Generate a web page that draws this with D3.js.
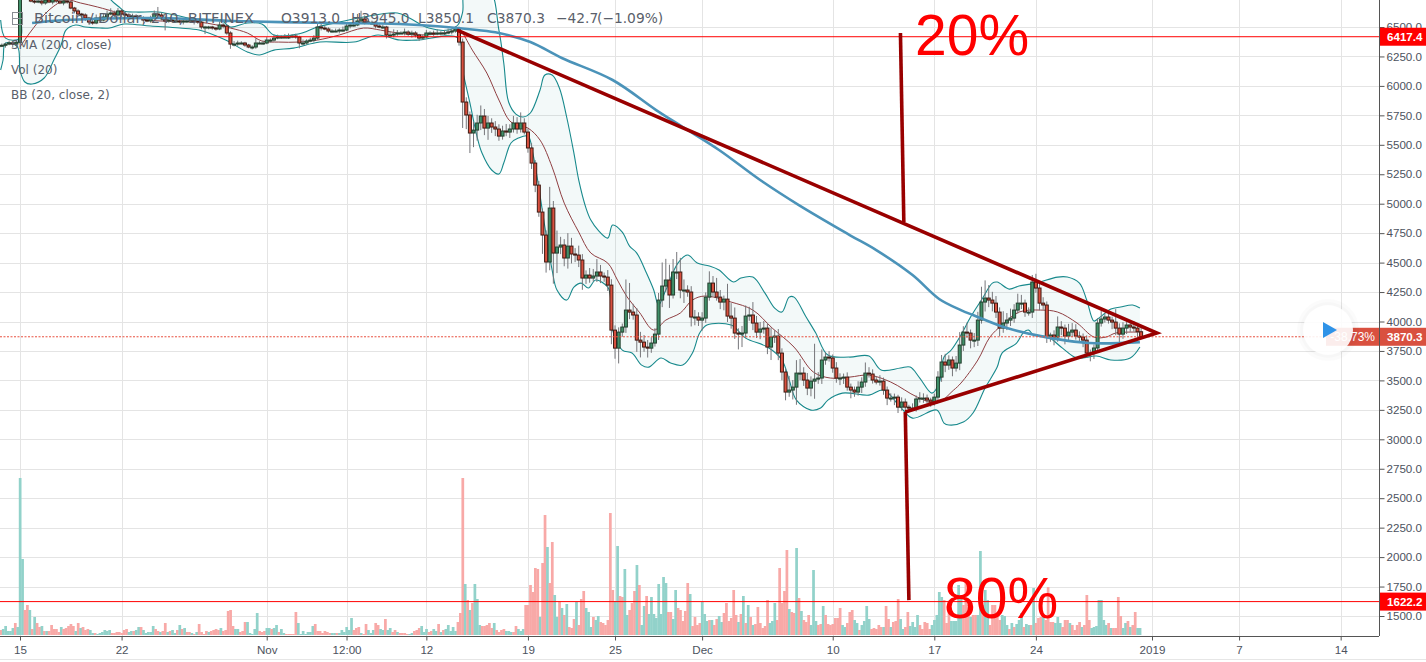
<!DOCTYPE html>
<html>
<head>
<meta charset="utf-8">
<title>BTCUSD chart</title>
<script src="https://cdn.jsdelivr.net/npm/d3@7/dist/d3.min.js"></script>
<style>
html,body{margin:0;padding:0;background:#fff;overflow:hidden}
svg{display:block}
.axis text{font-family:"Liberation Sans",Arial,sans-serif;font-size:11.6px;fill:#4c525e}
.axis path{display:none}
.axis line{stroke:#555}
</style>
</head>
<body>
<svg id="c" width="1426" height="662"></svg>
<script>
// ---- candles, one per 6 hours, first at Oct 13 12:00 ----
const closes=[
6340,6345,6355,6365,6355,6370,6780,6770,6755,6720,
6712,6720,6704,6729,6712,6746,6720,6704,6720,6712,
6661,6636,6610,6602,6576,6542,6534,6576,6559,6585,
6610,6619,6602,6636,6610,6602,6585,6593,6585,6576,
6559,6551,6576,6610,6602,6576,6551,6559,6551,6551,
6542,6551,6551,6559,6551,6542,6500,6500,6500,6491,
6483,6517,6508,6449,6355,6355,6364,6364,6347,6330,
6330,6364,6364,6364,6389,6389,6406,6415,6415,6415,
6415,6423,6415,6364,6364,6381,6389,6406,6500,6491,
6483,6466,6466,6466,6474,6474,6508,6517,6517,6551,
6568,6542,6534,6534,6508,6500,6500,6432,6432,6440,
6449,6449,6457,6440,6449,6432,6406,6415,6449,6449,
6440,6449,6449,6449,6457,6466,6483,6372,5863,5753,
5600,5625,5685,5744,5642,5685,5651,5634,5574,5617,
5608,5634,5685,5634,5685,5608,5473,5345,5158,4929,
4734,4505,4963,4581,4632,4649,4539,4640,4573,4564,
4522,4369,4394,4369,4386,4420,4386,4377,4309,3927,
3774,3910,3953,4097,4080,4055,3842,3825,3783,3774,
3817,3893,4182,4301,4352,4225,4420,4420,4267,4267,
4250,4038,4038,4012,4029,4207,4326,
4250,4207,4165,4190,4046,4029,3902,3893,3902,4046,
4055,3987,3910,3936,3944,3783,3868,3876,3732,3571,
3401,3418,3443,3562,3562,3503,3435,3494,3511,3520,
3673,3698,3690,3605,3520,3520,3528,3443,3418,3401,
3443,3486,3562,3554,3503,3486,3494,3418,3350,3350,
3358,3273,3316,3273,3265,3265,3342,3350,3350,3333,
3316,3358,3528,3656,3630,3673,3605,3647,3800,
3910,3902,3842,3842,4012,4165,4199,4182,4156,4080,
3944,3987,4012,4029,4097,4156,4156,4080,4080,4335,
4284,4156,4140,3868,3885,3868,3953,3944,3876,3910,
3927,3876,3868,3842,3732,3732,3775,3987,4021,4038,
4012,3995,3944,3893,3944,3970,3953,3944,3913,3870];
const firstOpen=6335;
const wickUp=[
10,15,10,20,10,20,30,10,20,30,
40,20,30,10,25,30,15,20,30,10,
10,10,15,10,15,10,20,30,15,25,
30,40,20,25,15,20,15,20,15,10,
15,10,20,30,60,20,15,25,15,10,
15,20,10,30,15,10,15,10,10,10,
10,30,15,10,15,25,20,15,10,10,
15,40,15,20,25,15,30,20,15,25,
30,15,20,10,30,15,20,25,25,30,
20,15,15,20,15,30,25,15,40,60,
70,30,15,20,15,25,20,10,30,40,
25,15,30,15,20,15,10,20,25,15,
20,30,15,25,30,20,25,20,30,40,
30,70,70,90,60,60,40,50,40,45,
60,40,60,50,90,40,30,40,25,35,
30,40,180,60,140,70,50,110,70,50,
80,50,40,60,60,110,60,30,60,50,
40,40,30,260,230,70,60,70,60,60,
50,50,60,200,180,130,110,170,120,90,
40,50,60,40,50,40,100,
60,120,60,30,130,110,90,40,60,90,
70,110,60,60,60,40,80,50,60,40,
30,120,60,110,120,50,60,40,300,50,
90,40,50,30,50,40,30,40,30,30,
50,40,90,50,40,30,50,30,30,40,
30,20,40,30,20,40,30,50,40,30,
20,30,50,60,70,40,30,60,110,
50,80,30,60,70,130,150,110,70,60,
40,100,60,80,50,80,70,30,40,60,
70,40,50,30,20,40,90,50,30,70,
60,50,40,30,40,30,30,40,70,30,
50,30,110,40,50,30,40,50,35,32];
const wickDown=[
15,10,20,10,25,15,10,20,15,10,
15,10,20,15,10,20,15,10,20,15,
10,20,15,30,25,20,15,10,25,10,
15,10,20,15,25,15,10,20,15,10,
15,10,15,10,20,10,80,15,10,15,
10,20,15,10,30,15,20,60,20,15,
15,10,20,15,40,20,15,10,15,10,
20,15,10,15,10,20,15,10,15,10,
15,10,15,45,20,15,10,20,15,20,
10,15,15,10,20,15,10,20,15,10,
15,20,10,15,20,10,15,30,15,20,
15,10,20,15,30,20,25,15,10,20,
15,10,20,15,10,20,15,30,220,120,
170,120,90,60,60,100,50,60,40,30,
35,50,30,40,30,20,40,50,60,40,
160,90,70,260,170,60,70,90,80,60,
60,100,50,40,30,50,60,40,50,120,
90,130,40,50,60,40,100,130,40,80,
40,30,50,60,50,110,30,60,70,110,
40,80,70,50,90,40,30,
40,30,60,70,50,90,50,130,110,40,
40,60,50,60,40,60,110,50,60,70,
70,40,80,150,60,50,60,70,150,40,
50,40,30,40,40,60,50,30,70,40,
30,50,40,30,30,20,30,40,60,30,
60,50,30,40,30,20,30,30,40,30,
40,30,50,40,60,40,70,30,60,
50,40,70,60,50,30,80,60,70,50,
70,40,60,50,40,30,50,40,30,50,
40,60,40,50,40,70,40,60,70,50,
40,30,50,60,40,70,50,40,30,30,
30,60,60,80,40,50,40,30,50,20];

// ---- volume, one per 4-hour bar from bar -8; positive = up bar, negative = down bar ----
const volumes=[
-5,6,9,4,4,7,-12,8,
157,76,-25,-30,25,-6,18,-12,-8,9,
-4,4,-4,-10,-6,-6,-3,8,-6,-7,
-9,-11,-9,4,-12,7,-8,-5,-6,5,
2,-2,1,2,3,5,4,5,-2,-2,
-3,-3,-2,-5,-6,3,4,-4,5,8,
-8,5,2,3,3,9,-6,-4,3,-4,
-12,3,-4,5,2,-5,10,-6,7,-3,
-3,2,-1,3,-11,-3,-1,-4,3,-4,
-5,-6,-5,7,-4,-5,-24,-25,-9,6,
6,-3,-4,-13,13,2,1,6,22,-4,
-3,-4,7,7,-6,7,10,-3,6,2,
-1,-1,-1,-1,-23,12,1,4,1,3,
3,9,-11,-4,-4,-2,-4,-3,-2,2,
2,-2,2,5,3,8,5,17,-5,-7,
-8,2,-1,-11,5,2,5,-12,-10,6,
5,-16,5,7,-3,-5,3,
-2,-2,-2,-1,1,2,
-4,-5,-7,9,3,6,-3,-4,6,4,
-11,3,-5,6,10,4,8,4,-13,-22,
-157,51,-35,25,-32,51,36,10,-9,-9,
-10,-12,-7,12,-5,-3,-5,-6,4,4,
3,-3,-9,6,4,6,-30,-30,-50,-43,
-67,-66,18,-72,-120,88,-52,-93,40,18,
-33,27,-20,31,-8,-7,-16,33,-10,-36,
-44,27,23,8,-18,15,19,-13,-12,-10,
-15,-122,-45,34,89,-39,-38,66,20,-25,
-32,-44,70,-50,10,29,-39,21,38,21,
17,51,21,58,52,-23,-23,16,45,-27,
-25,-14,-24,-52,41,-9,-18,-10,-12,33,
21,14,-15,15,-10,-16,19,13,-22,-32,
-14,-17,-45,-20,13,-21,39,-12,30,-18,
10,-11,-28,-12,-7,-9,-35,12,14,32,
-15,-67,-32,-44,-85,26,-23,-22,87,-37,
24,-15,-13,-20,10,65,14,-10,-11,29,
-20,-11,-10,-11,-17,-17,-27,10,8,-12,
-23,-25,15,12,-5,10,14,29,16,-6,
-7,-6,-10,-8,8,-29,-16,8,-13,-14,
-36,16,6,-8,-23,9,13,8,20,-10,
-6,-13,-12,-6,10,15,20,43,38,-35,
-12,-25,14,14,14,50,40,-30,-55,-30,
18,-20,-20,20,84,-30,45,35,-10,-30,
-30,-20,-15,20,19,10,-6,12,-8,11,
15,22,-8,11,10,-10,47,-12,-17,-18,
20,-15,-48,-13,-13,12,18,12,-8,-15,
-15,12,-10,-5,-10,-13,8,-10,-40,-15,
7,8,9,35,35,15,10,-12,7,-7,
-7,-38,-19,7,12,-14,8,-10,-23,7,
7];

// ---- indicators as [bar, price] readings ----
const bbUpper=[[-8,6559],[-6,6406],[0,6406],[1,6900],[33,6984],[37,6746],[41,6670],[43,6636],[48,6627],[57,6627],[66,6593],[74,6559],[83,6559],[87,6500],[94,6534],[100,6525],[105,6432],[115,6440],[123,6500],[132,6542],[142,6585],[156,6619],[161,6576],[169,6491],[177,6474],[181,6517],[183,6627],[184,6814],[194,6814],[198,6474],[200,6194],[202,5863],[205,5761],[208,5736],[211,5770],[215,5965],[217,6092],[220,6092],[223,5982],[226,5736],[229,5430],[231,5201],[234,4963],[236,4861],[239,4776],[243,4708],[245,4819],[249,4759],[252,4640],[255,4581],[259,4411],[262,4267],[264,4140],[267,4267],[272,4496],[276,4564],[280,4496],[285,4471],[289,4437],[295,4335],[298,4369],[303,4377],[308,4241],[312,4114],[315,4080],[318,4207],[320,4207],[325,4038],[329,3902],[334,3715],[343,3698],[351,3707],[356,3588],[364,3605],[368,3613],[372,3520],[377,3392],[380,3477],[382,3698],[385,3758],[389,3885],[393,4038],[398,4199],[402,4326],[404,4335],[409,4275],[413,4301],[420,4326],[429,4377],[433,4377],[438,4326],[441,4182],[444,4004],[446,4029],[451,4106],[455,4123],[460,4140],[463,4114]];
const bbLower=[[-8,6135],[-7,6220],[-6,6364],[-1,6330],[0,6135],[2,6033],[5,6016],[10,6067],[14,6220],[17,6347],[19,6474],[23,6517],[27,6500],[33,6491],[37,6491],[43,6525],[54,6508],[66,6491],[74,6474],[85,6389],[94,6288],[99,6262],[105,6304],[113,6321],[124,6372],[138,6372],[148,6432],[157,6389],[164,6389],[181,6406],[183,6135],[186,5855],[189,5566],[191,5430],[195,5286],[198,5252],[200,5345],[203,5515],[206,5557],[210,5574],[212,5430],[214,5201],[217,4802],[220,4437],[222,4267],[226,4182],[229,4292],[232,4326],[235,4284],[238,4352],[243,4292],[244,4225],[245,3927],[249,3757],[253,3732],[257,3630],[260,3613],[265,3690],[269,3647],[274,3630],[278,3732],[281,3902],[284,3970],[294,3970],[300,3859],[309,3783],[315,3673],[318,3503],[321,3333],[327,3248],[331,3265],[334,3333],[340,3392],[351,3375],[357,3418],[364,3273],[369,3180],[379,3248],[382,3138],[384,3121],[390,3146],[394,3223],[399,3435],[404,3613],[406,3732],[412,3817],[415,3910],[417,3927],[419,3885],[425,3868],[431,3774],[437,3690],[445,3707],[451,3673],[459,3690],[463,3783]];
const bbBasis=[[0,6330],[4,6449],[12,6644],[19,6729],[25,6704],[32,6670],[41,6619],[53,6559],[74,6542],[87,6491],[94,6449],[100,6381],[107,6372],[115,6372],[123,6389],[132,6432],[142,6491],[149,6474],[156,6449],[165,6432],[175,6449],[182,6474],[183,6449],[187,6304],[193,6109],[198,5880],[203,5693],[210,5642],[215,5540],[220,5311],[225,5005],[231,4759],[236,4581],[243,4496],[247,4352],[251,4208],[256,4080],[262,3927],[267,4012],[273,4072],[278,4182],[283,4216],[294,4165],[303,4097],[311,3944],[320,3783],[328,3571],[335,3520],[343,3528],[351,3545],[360,3486],[371,3358],[379,3308],[386,3418],[389,3477],[396,3673],[401,3868],[406,3970],[413,4080],[422,4097],[429,4080],[437,3987],[444,3868],[449,3868],[453,3902],[463,3910]];
const sma200=[[5,6534],[19,6559],[58,6576],[88,6551],[129,6534],[157,6525],[189,6474],[198,6449],[211,6372],[224,6237],[245,6050],[263,5795],[274,5651],[289,5456],[306,5201],[322,4988],[343,4734],[354,4606],[369,4394],[380,4191],[389,4097],[394,4055],[408,3944],[422,3876],[442,3817],[463,3825]];

// ---- drawn annotations ----
const trendLines=[
 [[180.7,6474],[470,3902],[366,3231]],
 [[366,3231],[367.5,1635]],
 [[364,6449],[365.4,4844]]
];
const priceLevels=[{v:6417.4,label:"6417.4"},{v:1622.2,label:"1622.2"}];
const lastPrice=3870.3, lastPriceText="3870.3", pctText="-38.73%";

// ---- axes ----
const priceTicks=d3.range(1500,6501,250);
const timeTickBars=[0,42,102,135,168,210,246,282,336,378,420,468,504,546];
const timeTickLabels=["15","22","Nov","12:00","12","19","25","Dec","10","17","24","2019","7","14"];

// ---- legend ----
const titleParts=[["Bitcoin / Dollar, 240, BITFINEX",34,14.6],["O3913.0",281,13.8],["H3945.0",351,13.8],["L3850.1",418,13.8],["C3870.3",487,13.8],["\u221242.7",556,13.8],["(\u22121.09%)",597,13.8]];
const studyLabels=["SMA (200, close)","Vol (20)","BB (20, close, 2)"];

// ---- layout ----
const W=1426,H=662,axisX=1379,axisY=636;
const x=d3.scaleLinear().domain([0,468]).range([20,1152]);
const y=d3.scaleLinear().domain([1500,6500]).range([616,27]);
const vy=d3.scaleLinear().domain([0,157]).range([635,478]);
const svg=d3.select("#c");
svg.append("rect").attr("width",W).attr("height",H).attr("fill","#fff");
svg.append("defs").append("clipPath").attr("id","pane").append("rect").attr("width",axisX).attr("height",axisY);
const pane=svg.append("g").attr("clip-path","url(#pane)");

// grid
pane.selectAll(".gh").data(priceTicks).join("line").attr("x1",0).attr("x2",axisX).attr("y1",d=>Math.round(y(d))+.5).attr("y2",d=>Math.round(y(d))+.5).attr("stroke","#e4e4e4");
pane.selectAll(".gv").data(timeTickBars).join("line").attr("y1",0).attr("y2",axisY).attr("x1",d=>Math.round(x(d))+.5).attr("x2",d=>Math.round(x(d))+.5).attr("stroke","#e4e4e4");

// volume
const barW=x(1)-x(0);
pane.selectAll(".v").data(volumes).join("rect")
 .attr("x",(d,i)=>x(i-8)-barW/2).attr("width",barW+.3)
 .attr("y",d=>vy(Math.abs(d))).attr("height",d=>vy(0)-vy(Math.abs(d)))
 .attr("fill",d=>d>0?"#92d2ca":"#f8a9a7");

// Bollinger bands
const curve=d3.line().x(d=>x(d[0])).y(d=>y(d[1])).curve(d3.curveCatmullRom.alpha(.5));
const poly=d3.line().x(d=>x(d[0])).y(d=>y(d[1]));
pane.append("path").attr("d",poly(bbUpper.concat(bbLower.slice().reverse()))+"Z").attr("fill","#2b9a9a").attr("fill-opacity",.06);
[bbUpper,bbLower].forEach(s=>pane.append("path").attr("d",curve(s)).attr("fill","none").attr("stroke","#17898c").attr("stroke-width",1.1));
pane.append("path").attr("d",curve(bbBasis)).attr("fill","none").attr("stroke","#8f3f42").attr("stroke-width",1);

// candles
const candles=closes.map((c,i)=>{const o=i?closes[i-1]:firstOpen;return{bar:(i-6)*1.5,o,c,h:Math.max(o,c)+wickUp[i],l:Math.min(o,c)-wickDown[i]};});
pane.selectAll(".w").data(candles).join("line").attr("x1",d=>x(d.bar)).attr("x2",d=>x(d.bar)).attr("y1",d=>y(d.h)).attr("y2",d=>y(d.l)).attr("stroke","#76767a").attr("stroke-width",1);
pane.selectAll(".b").data(candles).join("rect")
 .attr("x",d=>x(d.bar)-1.5).attr("width",3)
 .attr("y",d=>y(Math.max(d.o,d.c))).attr("height",d=>Math.max(1,Math.abs(y(d.o)-y(d.c))))
 .attr("fill",d=>d.c>=d.o?"#3f8f68":"#d9503f")
 .attr("stroke",d=>d.c>=d.o?"#25402f":"#3f1a12").attr("stroke-width",1);

// SMA
pane.append("path").attr("d",curve(sma200)).attr("fill","none").attr("stroke","#4b93b9").attr("stroke-width",2.6);

// level lines
pane.selectAll(".lvl").data(priceLevels).join("line").attr("x1",0).attr("x2",axisX).attr("y1",d=>y(d.v)).attr("y2",d=>y(d.v)).attr("stroke","#ff0000").attr("stroke-width",1);
pane.append("line").attr("x1",0).attr("x2",axisX).attr("y1",y(lastPrice)).attr("y2",y(lastPrice)).attr("stroke","#e8503f").attr("stroke-width",1).attr("stroke-dasharray","2 1.5");

// trend lines
trendLines.forEach(s=>pane.append("path").attr("d",poly(s)).attr("fill","none").attr("stroke","#990000").attr("stroke-width",3.6).attr("stroke-linejoin","miter"));

// big labels
[["20%",915,55],["80%",944,618]].forEach(t=>svg.append("text").attr("x",t[1]).attr("y",t[2]).text(t[0])
 .attr("font-family","Liberation Sans, Arial, sans-serif").attr("font-size",57).attr("fill","#ff0000"));

// legend
const legendFont="DejaVu Sans, sans-serif";
svg.append("rect").attr("x",12.5).attr("y",12.5).attr("width",10).attr("height",12).attr("fill","none").attr("stroke","#8a8d94");
svg.append("line").attr("x1",13).attr("x2",22).attr("y1",18.5).attr("y2",18.5).attr("stroke","#8a8d94");
titleParts.forEach(t=>svg.append("text").attr("x",t[1]).attr("y",23).text(t[0]).attr("font-family",legendFont).attr("font-size",t[2]).attr("fill","#5a5f6b"));
studyLabels.forEach((t,i)=>svg.append("text").attr("x",11).attr("y",49+i*25).text(t).attr("font-family",legendFont).attr("font-size",12).attr("fill","#5a5f6b"));

// axes
svg.append("line").attr("x1",axisX+.5).attr("x2",axisX+.5).attr("y1",0).attr("y2",axisY).attr("stroke","#555");
svg.append("line").attr("x1",0).attr("x2",axisX).attr("y1",axisY+.5).attr("y2",axisY+.5).attr("stroke","#555");
svg.append("line").attr("x1",0).attr("x2",W).attr("y1",659.5).attr("y2",659.5).attr("stroke","#e6e6e6");
svg.append("g").attr("class","axis").attr("transform",`translate(${axisX+.5},0)`)
 .call(d3.axisRight(y).tickValues(priceTicks).tickFormat(d3.format(".1f")).tickSize(5).tickPadding(2));
svg.append("g").attr("class","axis").attr("transform",`translate(0,${axisY+.5})`)
 .call(d3.axisBottom(x).tickValues(timeTickBars).tickFormat((d,i)=>timeTickLabels[i]).tickSize(4).tickPadding(5));

// price tags
const tag=(v,txt,fill)=>{const g=svg.append("g");
 g.append("rect").attr("x",axisX+1).attr("y",y(v)-9).attr("width",W-axisX-1).attr("height",18).attr("fill",fill);
 g.append("text").attr("x",axisX+8).attr("y",y(v)+4.5).text(txt).attr("fill","#fff").attr("font-family","Liberation Sans, Arial, sans-serif").attr("font-size",11.6).attr("font-weight","bold");};
priceLevels.forEach(d=>tag(d.v,d.label,"#ff0000"));

// play button overlay with last-price tags underneath
const bx=svg.append("g");
bx.append("rect").attr("x",1326).attr("y",y(lastPrice)-9).attr("width",53).attr("height",18).attr("fill","#d9503f");
bx.append("text").attr("x",1375).attr("y",y(lastPrice)+4.5).attr("text-anchor","end").text(pctText).attr("fill","#fff").attr("font-family","Liberation Sans, Arial, sans-serif").attr("font-size",12);
tag(lastPrice,lastPriceText,"#d9503f");
svg.append("circle").attr("cx",1328).attr("cy",330).attr("r",31).attr("fill","#000").attr("fill-opacity",.015);
svg.append("circle").attr("cx",1328).attr("cy",330).attr("r",28).attr("fill","#000").attr("fill-opacity",.015);
svg.append("circle").attr("cx",1328).attr("cy",330).attr("r",25).attr("fill","#fff").attr("fill-opacity",.9);
svg.append("path").attr("d","M1323 322L1337 330L1323 338Z").attr("fill","#2f93e8");
</script>
</body>
</html>
